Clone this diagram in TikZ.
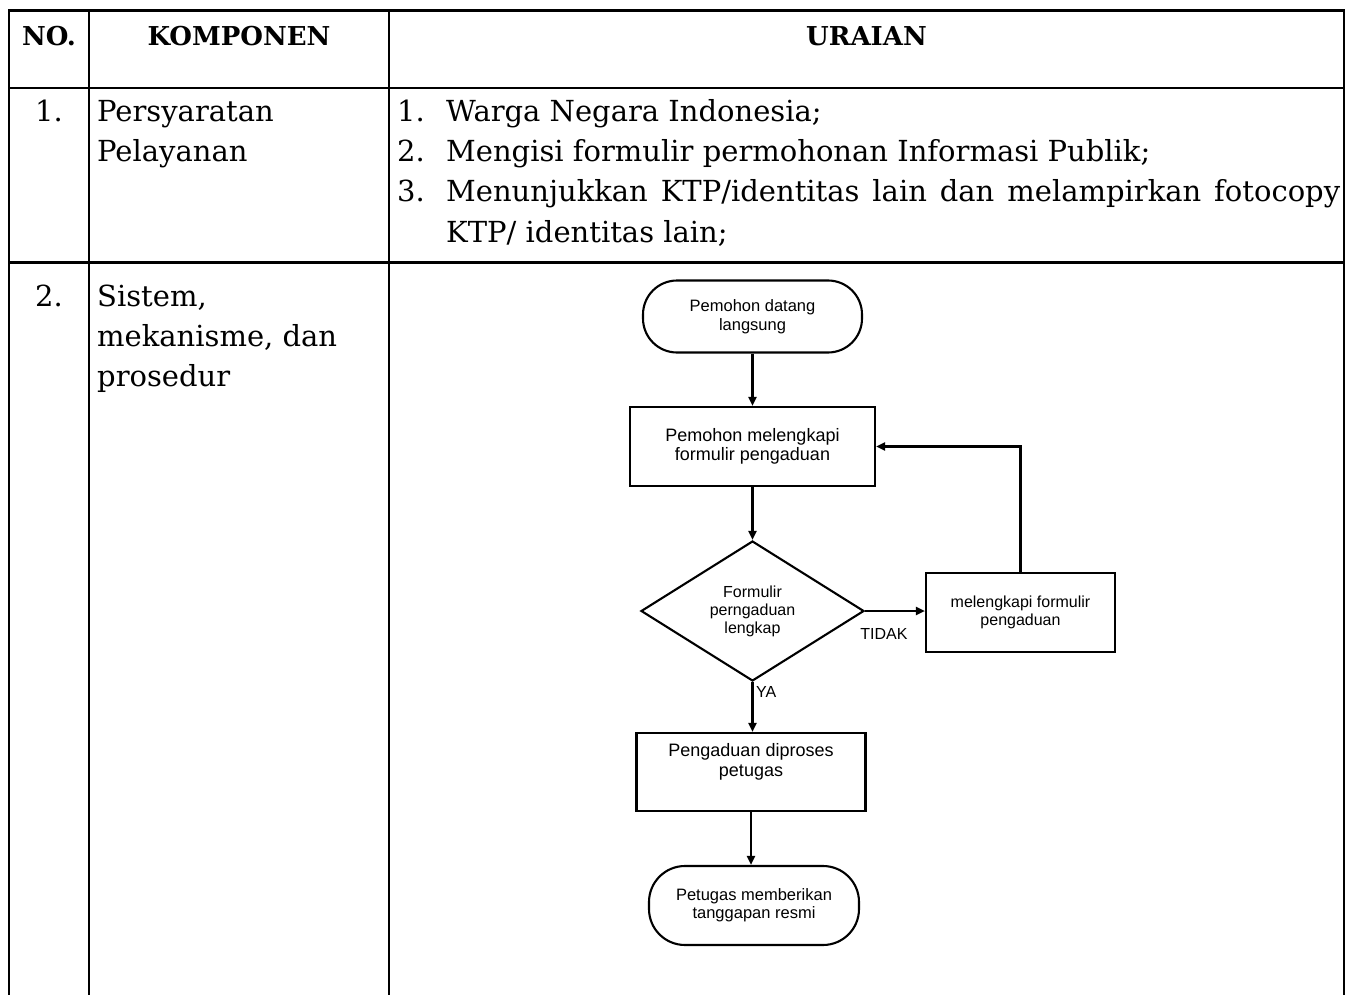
\documentclass[tikz,border=0pt]{standalone}
\usepackage{fontspec}
\setmainfont{DejaVu Serif}
\newfontfamily\fcfont{Liberation Sans}
\usetikzlibrary{arrows.meta,shapes.geometric}
\begin{document}
\begin{tikzpicture}[x=1pt,y=-1pt,
  tline/.style={line width=2.6pt},
  hdr/.style={font=\fontsize{26}{30}\selectfont\bfseries, anchor=base, inner sep=0pt},
  body/.style={font=\fontsize{29}{40}\selectfont, anchor=base west, inner sep=0pt},
  bodyc/.style={font=\fontsize{29}{40}\selectfont, anchor=base, inner sep=0pt},
  fcbase/.style={draw, line width=2.1pt, inner sep=0pt, align=center},
  proc/.style={fcbase, rectangle},
  term/.style={fcbase, rectangle, rounded corners=34pt},
  decide/.style={fcbase, diamond, shape aspect=1.6},
  fctxt/.style={inner sep=0pt, align=center},
  arr/.style={line width=2.1pt, -{Triangle[length=9pt,width=8pt]}},
]
\useasboundingbox (0,0) rectangle (1357,995);

% ---------- table ----------
\draw[tline, line join=miter] (9,995) -- (9,10.5) -- (1344,10.5) -- (1344,995);
\draw[tline] (89,10.5) -- (89,995);
\draw[tline] (389,10.5) -- (389,995);
\draw[tline] (9,88) -- (1344,88);
\draw[tline] (9,262.5) -- (1344,262.5);

\node[hdr] (hno) at (49,46) {NO.};
\node[hdr] (hkomp) at (239,46) {KOMPONEN};
\node[hdr] (hurai) at (866.5,46) {URAIAN};

\node[bodyc] (n1) at (49,122) {1.};
\node[body] (k1a) at (97,122) {Persyaratan};
\node[body] (k1b) at (97,162) {Pelayanan};

\node[body] (i1n) at (397,122) {1.};
\node[body] (i1) at (446,122) {Warga Negara Indonesia;};
\node[body] (i2n) at (397,162) {2.};
\node[body] (i2) at (446,162) {Mengisi formulir permohonan Informasi Publik;};
\node[body] (i3n) at (397,202) {3.};
\node[body] (i3a) at (446,202) {\makebox[894pt][s]{Menunjukkan KTP/identitas lain dan melampirkan fotocopy}};
\node[body] (i3b) at (446,242) {KTP/ identitas lain;};

\node[bodyc] (n2) at (49,306) {2.};
\node[body] (k2a) at (97,306) {Sistem,};
\node[body] (k2b) at (97,346) {mekanisme, dan};
\node[body] (k2c) at (97,386) {prosedur};

% ---------- flowchart ----------
\node[term, minimum width=219pt, minimum height=72pt,
      font=\fcfont\fontsize{16.5}{19}\selectfont] (t1) at (752.5,316.5)
      {Pemohon datang\\langsung};
\node[proc, minimum width=245pt, minimum height=79pt,
      font=\fcfont\fontsize{18}{19.5}\selectfont] (r1) at (752.5,446.5)
      {Pemohon melengkapi\\formulir pengaduan};
\node[decide, minimum width=223pt, minimum height=140pt,
      font=\fcfont\fontsize{16}{18}\selectfont] (d1) at (752.5,611)
      {Formulir\\perngaduan\\lengkap};
\node[proc, minimum width=189pt, minimum height=79pt,
      font=\fcfont\fontsize{16}{18}\selectfont] (r2) at (1020.5,612.5)
      {melengkapi formulir\\pengaduan};
\node[proc, minimum width=229pt, minimum height=78pt] (r3) at (751,772) {};
\node[fctxt, font=\fcfont\fontsize{18}{20}\selectfont] (r3t) at (751,762)
      {Pengaduan diproses\\petugas};
\node[term, minimum width=210pt, minimum height=79pt, rounded corners=36pt,
      font=\fcfont\fontsize{16.5}{18}\selectfont] (t2) at (754,905.5)
      {Petugas memberikan\\tanggapan resmi};

\draw[arr] (t1.south) -- (r1.north);
\draw[arr] (r1.south) -- (d1.north);
\draw[arr] (d1.east) -- (d1.east -| r2.west);
\coordinate (fb) at (1020.5,446.5);
\draw[arr] (r2.north) -- (fb) -- (r1.east);
\draw[arr] (d1.south) -- (d1.south |- r3.north);
\draw[arr] (r3.south) -- (r3.south |- t2.north);

\node[fctxt, font=\fcfont\fontsize{16}{18}\selectfont] (tidak) at (884,634) {TIDAK};
\node[fctxt, font=\fcfont\fontsize{16}{18}\selectfont, anchor=west] (ya) at (756,692) {YA};
\end{tikzpicture}
\end{document}
